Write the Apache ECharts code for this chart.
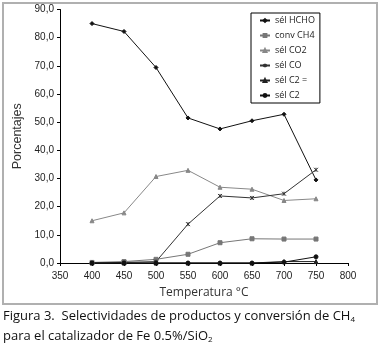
<!DOCTYPE html>
<html><head><meta charset="utf-8">
<script src="https://cdn.jsdelivr.net/npm/echarts@6/dist/echarts.min.js"></script>
<style>html,body{margin:0;padding:0;background:#fff}#c{width:381px;height:349px}</style>
</head><body><div id="c"></div>
<script>
const temps = [400, 450, 500, 550, 600, 650, 700, 750];
const selHCHO = [85.0, 82.2, 69.4, 51.5, 47.6, 50.5, 52.8, 29.5];
const convCH4 = [0.2, 0.5, 1.3, 3.1, 7.2, 8.6, 8.5, 8.5];
const selCO2 = [15.0, 17.8, 30.7, 32.9, 26.9, 26.2, 22.2, 22.8];
const selCO = [0.0, 0.2, 0.5, 13.8, 23.8, 23.1, 24.6, 33.1];
const selC2e = [0.0, 0.0, 0.0, 0.0, 0.0, 0.0, 0.5, 0.5];
const selC2 = [0.0, 0.0, 0.0, 0.0, 0.0, 0.0, 0.3, 2.2];
const seriesNames = ['sél HCHO', 'conv CH4', 'sél CO2', 'sél CO', 'sél C2 =', 'sél C2'];
const yTicks = [0, 10, 20, 30, 40, 50, 60, 70, 80, 90];
const xTicks = [350, 400, 450, 500, 550, 600, 650, 700, 750, 800];

const pair = arr => temps.map((t, i) => [t, arr[i]]);
const styles = [
  {c: '#111', s: 'diamond', z: 4},
  {c: '#777', s: 'rect', z: 4},
  {c: '#888', s: 'triangle', z: 4},
  {c: '#333', s: 'path://M0,0L10,10M10,0L0,10M5,0L5,10', z: 4},
  {c: '#222', s: 'triangle', z: 4},
  {c: '#111', s: 'circle', z: 4}
];
const datas = [selHCHO, convCH4, selCO2, selCO, selC2e, selC2];
const series = datas.map((d, i) => ({
  name: seriesNames[i], type: 'line', data: pair(d),
  symbol: styles[i].s, symbolSize: styles[i].z,
  lineStyle: {color: styles[i].c, width: 1},
  itemStyle: {color: styles[i].c, borderColor: styles[i].c, borderWidth: 1},
  animation: false
}));

const chart = echarts.init(document.getElementById('c'), null, {renderer: 'canvas'});
chart.setOption({
  animation: false,
  grid: {left: 60, right: 33, top: 9.5, bottom: 86},
  xAxis: {
    type: 'value', min: 350, max: 800, interval: 50,
    axisLine: {lineStyle: {color: '#000', width: 1}},
    axisTick: {show: true, length: 3, lineStyle: {color: '#000'}},
    splitLine: {show: false},
    axisLabel: {color: '#222', fontFamily: 'Liberation Sans', fontSize: 10, margin: 8},
    name: 'Temperatura °C', nameLocation: 'middle', nameGap: 24,
    nameTextStyle: {color: '#333', fontFamily: 'Open Sans', fontSize: 12}
  },
  yAxis: {
    type: 'value', min: 0, max: 90, interval: 10,
    axisLine: {show: true, lineStyle: {color: '#000', width: 1}},
    axisTick: {show: true, length: 3, lineStyle: {color: '#000'}},
    splitLine: {show: false},
    axisLabel: {color: '#222', fontFamily: 'Liberation Sans', fontSize: 10, margin: 6,
      formatter: v => v.toFixed(1).replace('.', ',')},
    name: 'Porcentajes', nameLocation: 'middle', nameGap: 31, nameRotate: 90,
    nameTextStyle: {color: '#333', fontFamily: 'Liberation Sans', fontSize: 12.5}
  },
  legend: {
    show: true, orient: 'vertical', left: 251, top: 13,
    borderColor: '#000', borderWidth: 1, padding: [3, 5, 3, 8],
    itemWidth: 10, itemHeight: 3.5, itemGap: 6,
    textStyle: {color: '#222', fontFamily: 'Open Sans', fontSize: 9, lineHeight: 9},
    data: seriesNames
  },
  graphic: [
    {type: 'rect', shape: {x: 3, y: 3, width: 374, height: 301},
      style: {fill: 'none', stroke: '#b0b0b0', lineWidth: 2}, silent: true},
    {type: 'text', left: 3, top: 310,
      style: {text: 'Figura 3.  Selectividades de productos y conversión de CH{s|4}',
        font: '13px "Open Sans"', fill: '#111',
        rich: {s: {fontSize: 8, verticalAlign: 'bottom', padding: [6, 0, 0, 0], fontFamily: 'Open Sans'}}}},
    {type: 'text', left: 3, top: 330,
      style: {text: 'para el catalizador de Fe 0.5%/SiO{s|2}',
        font: '13px "Open Sans"', fill: '#111',
        rich: {s: {fontSize: 8, verticalAlign: 'bottom', padding: [6, 0, 0, 0], fontFamily: 'Open Sans'}}}}
  ],
  series: series
});
</script></body></html>
